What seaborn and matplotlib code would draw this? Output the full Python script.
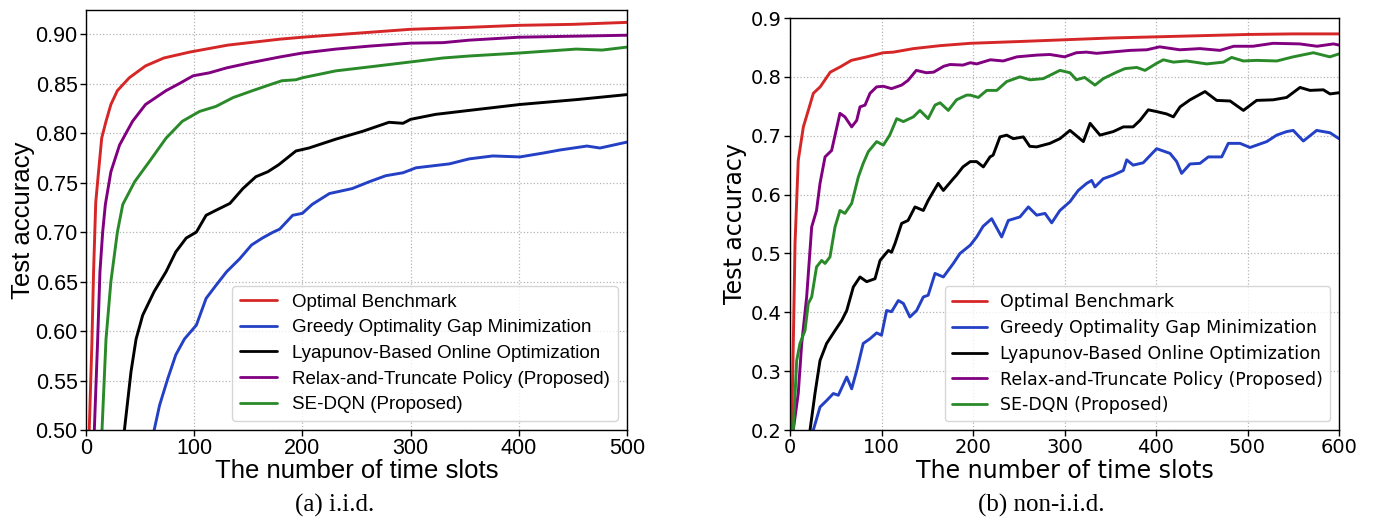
import matplotlib
matplotlib.use("Agg")
import matplotlib.pyplot as plt
import seaborn as sns
import numpy as np

# ---------------- data: (a) i.i.d. ----------------
L_x_opt = [1, 3, 5.5, 7, 9, 11.5, 14.5, 18.5, 23, 29, 40, 55, 72, 96, 131, 179, 200, 250, 300, 354, 400, 450, 500]
L_y_opt = [0.25, 0.50, 0.59, 0.66, 0.73, 0.76, 0.795, 0.812, 0.829, 0.843, 0.856, 0.868, 0.876, 0.882, 0.889, 0.895, 0.897, 0.901, 0.905, 0.907, 0.909, 0.910, 0.912]

L_x_gr = [60, 63, 68, 75.6, 83, 91, 102, 111, 120, 130, 142, 153, 163, 173, 179, 191, 200, 209, 225, 246, 262, 277, 293, 305, 336, 354, 376, 401, 423, 438, 463, 475, 500]
L_y_gr = [0.45, 0.50, 0.525, 0.552, 0.576, 0.592, 0.606, 0.633, 0.646, 0.66, 0.673, 0.687, 0.694, 0.70, 0.703, 0.717, 0.719, 0.728, 0.739, 0.744, 0.751, 0.757, 0.760, 0.765, 0.769, 0.774, 0.777, 0.776, 0.780, 0.783, 0.787, 0.785, 0.791]

L_x_ly = [30, 35.5, 41.6, 46.3, 52.4, 63, 74, 83, 92.6, 102, 111, 120, 133, 145, 157, 168, 178, 194, 206, 231, 256, 280, 293, 300, 323, 354, 401, 454, 500]
L_y_ly = [0.40, 0.50, 0.559, 0.592, 0.616, 0.64, 0.66, 0.68, 0.694, 0.70, 0.717, 0.722, 0.729, 0.744, 0.756, 0.761, 0.768, 0.782, 0.785, 0.794, 0.802, 0.811, 0.810, 0.814, 0.819, 0.823, 0.829, 0.834, 0.839]

L_x_rt = [3, 7.7, 10.8, 12.9, 15.4, 17.9, 23, 31, 43, 55, 74, 86, 99, 114, 130, 151, 179, 200, 231, 262, 300, 330, 354, 400, 450, 500]
L_y_rt = [0.30, 0.50, 0.592, 0.66, 0.70, 0.728, 0.761, 0.788, 0.812, 0.829, 0.843, 0.850, 0.858, 0.861, 0.866, 0.871, 0.877, 0.881, 0.885, 0.888, 0.891, 0.8915, 0.894, 0.897, 0.898, 0.899]

L_x_se = [10, 14.8, 18.5, 23, 29, 34, 45, 59, 74, 89, 105, 120, 136, 154, 170, 181, 194, 200, 231, 262, 300, 330, 354, 400, 453, 477, 500]
L_y_se = [0.35, 0.50, 0.592, 0.65, 0.70, 0.728, 0.751, 0.772, 0.795, 0.812, 0.822, 0.827, 0.836, 0.843, 0.849, 0.853, 0.854, 0.856, 0.863, 0.867, 0.872, 0.876, 0.878, 0.881, 0.885, 0.884, 0.887]

# ---------------- data: (b) non-i.i.d. ----------------
R_x_opt = [1, 1.8, 3.6, 5.5, 9, 14.6, 20, 25.5, 33, 44, 55, 67, 84, 102, 113, 135, 164, 197, 250, 300, 350, 400, 450, 500, 550, 600]
R_y_opt = [0.15, 0.20, 0.347, 0.517, 0.658, 0.715, 0.743, 0.772, 0.783, 0.808, 0.817, 0.828, 0.834, 0.841, 0.842, 0.848, 0.853, 0.857, 0.860, 0.863, 0.866, 0.868, 0.870, 0.872, 0.873, 0.873]

R_x_gr = [22, 25.5, 32.8, 40, 47.4, 52.8, 62, 67.4, 72.9, 80, 87.4, 94.7, 100, 105.6, 111, 118.4, 123.9, 131, 138.4, 145.7,
          151, 158.5, 167.6, 178.5, 185.8, 197, 204, 211, 220.4, 231.3, 238.6, 251.3, 260.5, 269.6, 278.7, 286, 295, 306, 315, 324.2,
          329.7, 333.3, 342.4, 353.3, 364.3, 368, 375, 386, 400.7, 415.3, 422.6, 428, 437.2, 448, 457.2, 471.8, 479, 491.8, 502.8, 521,
          531.9, 542.8, 550, 561, 575.6, 590.2, 600]
R_y_gr = [0.17, 0.20, 0.239, 0.250, 0.262, 0.259, 0.290, 0.270, 0.301, 0.347, 0.355, 0.365, 0.361, 0.403, 0.401, 0.420, 0.415, 0.392, 0.403, 0.426,
          0.429, 0.466, 0.460, 0.483, 0.500, 0.514, 0.528, 0.546, 0.559, 0.528, 0.556, 0.562, 0.579, 0.565, 0.568, 0.552, 0.573, 0.588, 0.607, 0.619,
          0.624, 0.613, 0.627, 0.633, 0.641, 0.659, 0.650, 0.654, 0.678, 0.670, 0.656, 0.636, 0.652, 0.653, 0.664, 0.664, 0.687, 0.687, 0.680, 0.690,
          0.701, 0.707, 0.709, 0.691, 0.709, 0.705, 0.695]

R_x_ly = [20, 21.9, 27.3, 32.8, 40, 49.2, 56.5, 62, 69.2, 76.5, 83.8, 92.9, 98.4, 107.5, 111, 114.8, 122, 129, 136.6, 145.7,
          151, 156.6, 162, 167.6, 178.5, 182, 189, 197, 204, 211.3, 218.6, 222, 229.5, 236.8, 244, 255, 262, 269.6, 284, 295,
          306, 320.6, 328, 338.8, 353.3, 364.3, 375, 382.5, 391.6, 400.7, 411.6, 419, 426.3, 437.2, 453.6, 466.3, 481, 495.5, 510, 528,
          542.8, 557.4, 568.3, 582.9, 590.2, 600]
R_y_ly = [0.15, 0.20, 0.262, 0.318, 0.347, 0.369, 0.386, 0.403, 0.443, 0.460, 0.452, 0.457, 0.488, 0.505, 0.502, 0.517, 0.551, 0.556, 0.579, 0.573,
          0.590, 0.605, 0.619, 0.607, 0.627, 0.633, 0.647, 0.656, 0.656, 0.647, 0.664, 0.667, 0.698, 0.701, 0.695, 0.698, 0.682, 0.681, 0.687, 0.695,
          0.709, 0.690, 0.721, 0.701, 0.707, 0.715, 0.715, 0.726, 0.744, 0.741, 0.737, 0.732, 0.749, 0.761, 0.775, 0.760, 0.759, 0.743, 0.760, 0.761,
          0.765, 0.782, 0.777, 0.778, 0.771, 0.773]

R_x_rt = [2, 3.6, 9, 12.8, 18.2, 23.7, 29, 32.8, 38.3, 45.5, 54.6, 60, 67.4, 72.9, 76.5, 82, 87.4, 94.7, 102, 111,
          122, 129, 138, 149, 157, 168, 175, 189, 197, 204, 219, 233, 248, 270, 284, 300, 313, 324, 335, 350,
          372, 390, 404, 426, 448, 470, 485, 506, 528, 557, 576, 594, 600]
R_y_rt = [0.15, 0.20, 0.262, 0.347, 0.426, 0.545, 0.573, 0.619, 0.664, 0.675, 0.738, 0.732, 0.715, 0.726, 0.749, 0.752, 0.772, 0.783, 0.784, 0.780,
          0.786, 0.794, 0.811, 0.807, 0.808, 0.818, 0.821, 0.820, 0.824, 0.822, 0.829, 0.827, 0.834, 0.837, 0.838, 0.834, 0.841, 0.842, 0.840, 0.842,
          0.845, 0.846, 0.851, 0.846, 0.848, 0.845, 0.852, 0.852, 0.857, 0.856, 0.852, 0.856, 0.854]

R_x_se = [2, 3.6, 7.3, 10.9, 16.4, 20, 23.7, 29, 34.6, 38.3, 43.7, 49.2, 54.6, 60, 67.4, 74.7, 80, 85.6, 94.7, 102,
          109, 116.6, 123.9, 134.8, 142, 151, 158.5, 164, 173, 182, 193, 197, 205.8, 215, 226, 236.8, 251.3, 262.3, 276.8, 295,
          306, 313, 322, 333.3, 342.4, 357, 366, 379, 388, 400.7, 408, 419, 433.5, 455.4, 473.6, 482.7, 495.5, 510, 532, 550,
          572, 590, 600]
R_y_se = [0.15, 0.20, 0.318, 0.347, 0.369, 0.415, 0.426, 0.477, 0.488, 0.483, 0.494, 0.545, 0.573, 0.568, 0.585, 0.630, 0.653, 0.673, 0.690, 0.684,
          0.701, 0.729, 0.724, 0.732, 0.743, 0.729, 0.752, 0.756, 0.743, 0.761, 0.769, 0.769, 0.765, 0.777, 0.777, 0.792, 0.800, 0.795, 0.797, 0.811,
          0.807, 0.795, 0.799, 0.786, 0.797, 0.808, 0.814, 0.816, 0.811, 0.823, 0.829, 0.825, 0.827, 0.822, 0.825, 0.833, 0.827, 0.828, 0.827, 0.834,
          0.841, 0.834, 0.839]

labels = ["Optimal Benchmark", "Greedy Optimality Gap Minimization",
          "Lyapunov-Based Online Optimization", "Relax-and-Truncate Policy (Proposed)",
          "SE-DQN (Proposed)"]
colors = ["#d62728", "#2440c4", "#000000", "#800080", "#2a8a2a"]

left_series = [(L_x_opt, L_y_opt), (L_x_gr, L_y_gr), (L_x_ly, L_y_ly), (L_x_rt, L_y_rt), (L_x_se, L_y_se)]
right_series = [(R_x_opt, R_y_opt), (R_x_gr, R_y_gr), (R_x_ly, R_y_ly), (R_x_rt, R_y_rt), (R_x_se, R_y_se)]

sns.set_style("ticks")
plt.rcParams.update({
    "axes.edgecolor": "black",
    "text.color": "black",
    "axes.labelcolor": "black",
    "xtick.color": "black",
    "ytick.color": "black",
})

fig = plt.figure(figsize=(13.74, 5.19), dpi=100)
axL = fig.add_axes([86 / 1374, 1 - 430 / 519, (627 - 86) / 1374, (430 - 10) / 519])
axR = fig.add_axes([790 / 1374, 1 - 430 / 519, (1339 - 790) / 1374, (430 - 18) / 519])


def draw(ax, series, xlim, ylim, yticks, yfmt, family, tick_fs, lab_fs, leg_fs, ylpad, xlpad):
    for (x, y), c, lab in zip(series, colors, labels):
        sns.lineplot(x=x, y=y, ax=ax, color=c, linewidth=2.1, label=lab, estimator=None)
    ax.set_xlim(*xlim)
    ax.set_ylim(*ylim)
    ax.set_yticks(yticks)
    ax.set_yticklabels([yfmt.format(v) for v in yticks], family=family, fontsize=tick_fs)
    xt = [t for t in np.arange(0, xlim[1] + 1, 100)]
    ax.set_xticks(xt)
    ax.set_xticklabels([str(int(t)) for t in xt], family=family, fontsize=tick_fs)
    ax.grid(True, linestyle=":", color="#b5b5b5", linewidth=0.9)
    ax.set_axisbelow(True)
    for s in ax.spines.values():
        s.set_visible(True)
        s.set_color("black")
        s.set_linewidth(1.0)
    ax.tick_params(direction="out", length=4, width=1, pad=2, colors="black")
    ax.set_xlabel("The number of time slots", family=family, fontsize=lab_fs, labelpad=xlpad, color="black")
    ax.set_ylabel("Test accuracy", family=family, fontsize=lab_fs, labelpad=ylpad, color="black")
    leg = ax.legend(loc="lower right", prop={"family": family, "size": leg_fs},
                    frameon=True, fancybox=True, framealpha=0.8, edgecolor="#cccccc",
                    handlelength=2.0, labelspacing=0.45)
    for t in leg.get_texts():
        t.set_color("black")
    for line in leg.get_lines():
        line.set_linewidth(2.0)


draw(axL, left_series, (0, 500), (0.5, 0.9245),
     [0.50, 0.55, 0.60, 0.65, 0.70, 0.75, 0.80, 0.85, 0.90], "{:.2f}",
     "Liberation Sans", 15.5, 18.5, 13.5, 0.5, 0)
draw(axR, right_series, (0, 600), (0.2, 0.9),
     [0.2, 0.3, 0.4, 0.5, 0.6, 0.7, 0.8, 0.9], "{:.1f}",
     "DejaVu Sans", 14, 17, 12.5, 2.5, 1)

fig.text(335 / 1374, 1 - 505 / 519, "(a) i.i.d.", family="Liberation Serif", fontsize=18, ha="center", va="center")
fig.text(1041 / 1374, 1 - 505 / 519, "(b) non-i.i.d.", family="Liberation Serif", fontsize=18, ha="center", va="center")

fig.savefig("out.png", dpi=100)
